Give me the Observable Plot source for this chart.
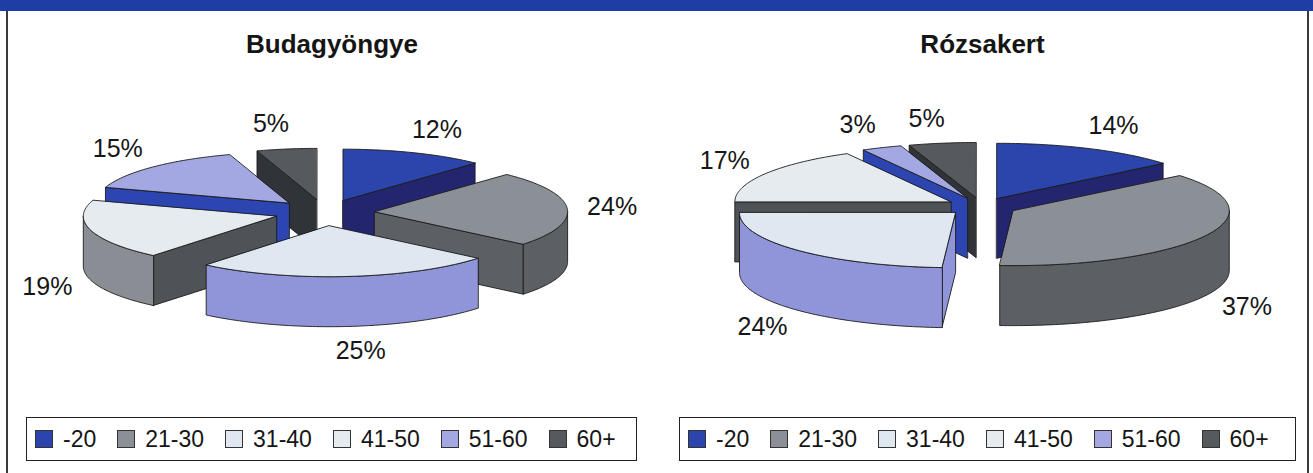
<!DOCTYPE html>
<html><head><meta charset="utf-8">
<script src="https://cdn.jsdelivr.net/npm/d3@7"></script>
<script src="https://cdn.jsdelivr.net/npm/@observablehq/plot@0.6"></script>
<style>
body{margin:0;background:#fff;font-family:"Liberation Sans",Arial,Helvetica,sans-serif;color:#151515;}
#page{position:relative;width:1313px;height:473px;overflow:hidden;background:#fff;}
#band{position:absolute;left:0;top:0;width:1313px;height:11px;background:#1f3ea5;}
.vline{position:absolute;top:11px;width:1.5px;height:462px;background:#3a3a3a;}
.panel{position:absolute;top:11px;height:462px;}
.panel svg{position:absolute;left:0;top:0;}
.title{position:absolute;top:20px;left:0;right:0;text-align:center;font-weight:bold;font-size:26px;line-height:26px;}
.legend{position:absolute;top:406px;height:42px;box-sizing:content-box;border:1.5px solid #222;display:flex;align-items:center;font-size:23px;line-height:23px;padding-left:8px;gap:21px;}
.item{display:flex;align-items:center;gap:10px;}
.sw{width:16px;height:16px;border:1px solid #333;}
</style></head>
<body><div id="page"><div id="band"></div>
<div class="vline" style="left:6px"></div>
<div class="vline" style="left:1307px"></div>
</div>
<script>
// ---- data ----
const ageGroups = ["-20", "21-30", "31-40", "41-50", "51-60", "60+"];
const budagyongye = [12, 24, 25, 19, 15, 5];
const rozsakert = [14, 37, 24, 17, 3, 5];
const chartTitles = ["Budagyöngye", "Rózsakert"];

// ---- styles ----
const topColors   = ["#2b45ad", "#8b8f96", "#dfe7f0", "#e5ebef", "#a3a8e2", "#56595e"];
const wallColors  = ["#23266f", "#5c5f64", "#8f95d8", "#4f5257", "#2d45b0", "#303338"];
const outerColors = ["#23266f", "#5c5f64", "#8f95d8", "#8a8e94", "#2d45b0", "#303338"];
const layouts = [
  {left: 7, width: 650, cx: 317, cy: 201, rx: 193, ry: 51, explode: 0.26, depth: 50/51, legendLeft: 19, legendWidth: 601},
  {left: 657, width: 651, cx: 324, cy: 195, rx: 216, ry: 55, explode: 0.165, depth: 60/55, legendLeft: 22, legendWidth: 607}
];
const H = 394;
const padX = 35, padY = 25, nudge = 10;

function buildChart(values, title, L) {
  const arcs = d3.pie().sort(null).startAngle(0).endAngle(2 * Math.PI)(values);
  const e = L.explode, d = L.depth;
  const slices = arcs.map((a, i) => ({...a, i, m: (a.startAngle + a.endAngle) / 2}))
    .sort((p, q) => Math.cos(q.m) - Math.cos(p.m));
  const polys = [];
  for (const s of slices) {
    const ox = e * Math.sin(s.m), oy = -e * Math.cos(s.m);
    const rim = (t, dz = 0) => ({x: ox + Math.sin(t), y: oy - Math.cos(t) + dz});
    const ctr = (dz = 0) => ({x: ox, y: oy + dz});
    const arcPts = (t0, t1, dz = 0) => {
      const n = Math.max(2, Math.ceil((t1 - t0) / (Math.PI / 180)));
      return d3.range(n + 1).map(k => rim(t0 + (t1 - t0) * k / n, dz));
    };
    const a0 = s.startAngle, a1 = s.endAngle;
    if (Math.sin(a0) < -1e-9) polys.push({pts: [ctr(), rim(a0), rim(a0, d), ctr(d)], fill: wallColors[s.i]});
    if (Math.sin(a1) > 1e-9) polys.push({pts: [ctr(), rim(a1), rim(a1, d), ctr(d)], fill: wallColors[s.i]});
    const b0 = Math.max(a0, Math.PI / 2), b1 = Math.min(a1, 3 * Math.PI / 2);
    if (b1 > b0) polys.push({pts: [...arcPts(b0, b1), ...arcPts(b0, b1, d).reverse()], fill: outerColors[s.i]});
    polys.push({pts: [ctr(), ...arcPts(a0, a1)], fill: topColors[s.i]});
  }
  const labels = arcs.map((a, i) => {
    const m = (a.startAngle + a.endAngle) / 2, sn = Math.sin(m), cs = Math.cos(m);
    return {
      x: (1 + e) * sn + (padX * sn + nudge * Math.sign(sn)) / L.rx,
      y: -(1 + e) * cs + (cs < 0 ? d : 0) - padY * cs / L.ry,
      text: values[i] + "%"
    };
  });
  const W = L.width;
  const svg = Plot.plot({
    width: W, height: H, margin: 0,
    x: {domain: [-L.cx / L.rx, (W - L.cx) / L.rx], range: [0, W], axis: null},
    y: {domain: [-L.cy / L.ry, (H - L.cy) / L.ry], range: [0, H], axis: null},
    style: {background: "transparent", overflow: "visible"},
    marks: [
      ...polys.map(p => Plot.line(p.pts, {x: "x", y: "y", fill: p.fill, stroke: "#1c1c1c", strokeWidth: 1, strokeOpacity: 0.9, curve: "linear-closed"})),
      Plot.text(labels, {x: "x", y: "y", text: "text", fontSize: 25, fill: "#161616", fontFamily: "Liberation Sans, Arial, sans-serif"})
    ]
  });
  const panel = document.createElement("div");
  panel.className = "panel";
  panel.style.left = L.left + "px";
  panel.style.width = W + "px";
  panel.appendChild(svg);
  const t = document.createElement("div");
  t.className = "title"; t.textContent = title;
  panel.appendChild(t);
  const lg = document.createElement("div");
  lg.className = "legend";
  lg.style.left = L.legendLeft + "px";
  lg.style.width = L.legendWidth + "px";
  ageGroups.forEach((g, i) => {
    const it = document.createElement("div"); it.className = "item";
    const sw = document.createElement("div"); sw.className = "sw"; sw.style.background = topColors[i];
    const tx = document.createElement("span"); tx.textContent = g;
    it.appendChild(sw); it.appendChild(tx); lg.appendChild(it);
  });
  panel.appendChild(lg);
  document.getElementById("page").appendChild(panel);
}
buildChart(budagyongye, chartTitles[0], layouts[0]);
buildChart(rozsakert, chartTitles[1], layouts[1]);
</script></body></html>
